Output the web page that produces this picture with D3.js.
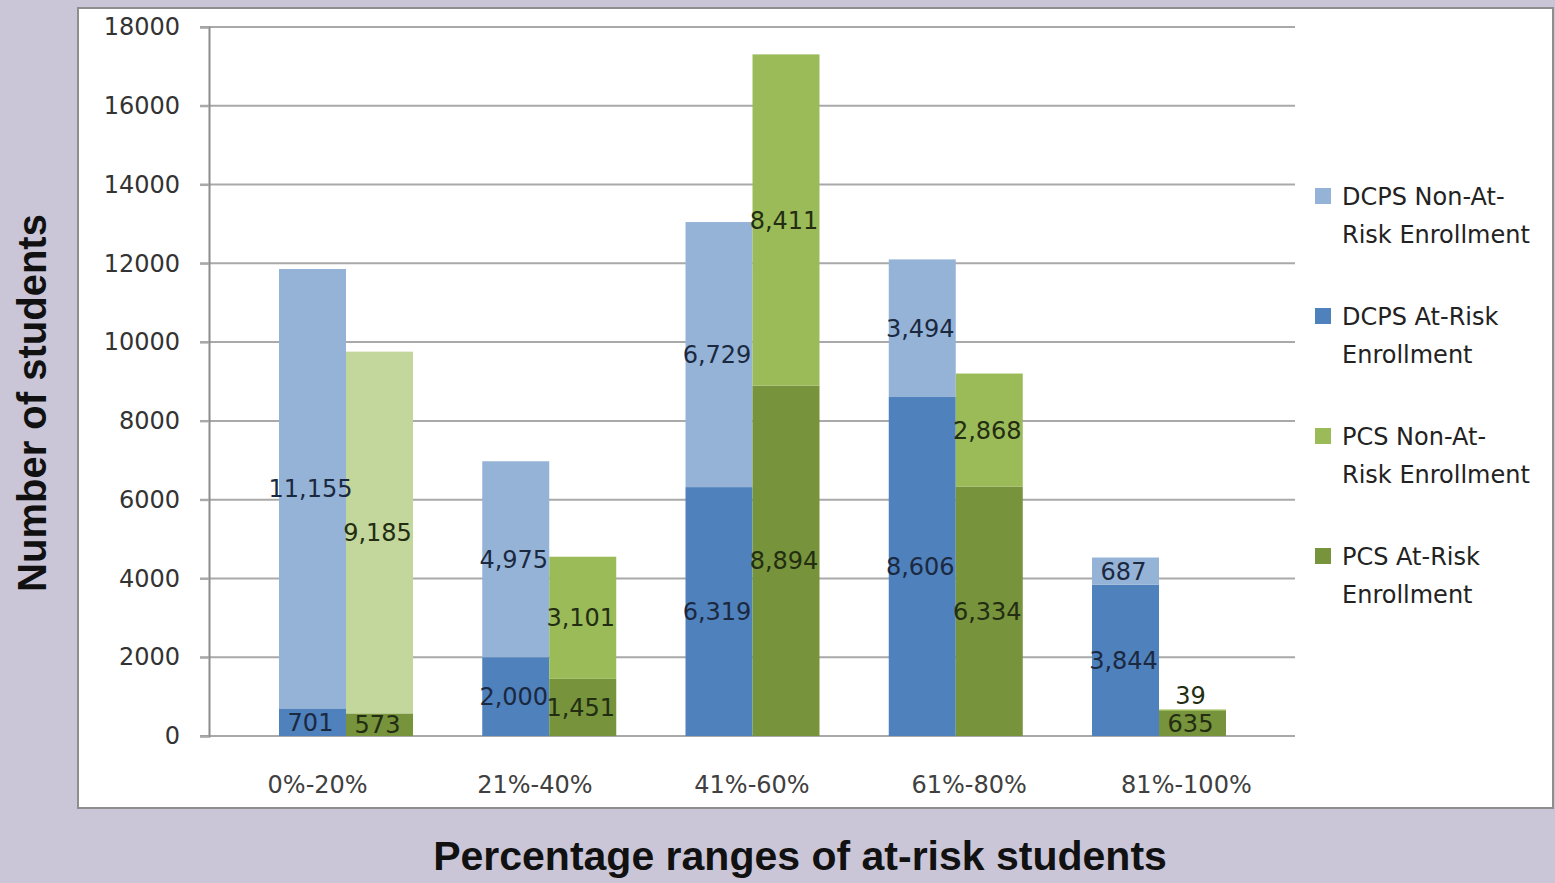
<!DOCTYPE html>
<html>
<head>
<meta charset="utf-8">
<script src="https://cdn.jsdelivr.net/npm/d3@7"></script>
<style>
  html, body { margin: 0; padding: 0; background: #cac6d8; }
  svg { display: block; }
  text { font-family: "DejaVu Sans", Verdana, sans-serif; }
  text.axis-title { font-family: "Liberation Sans", Arial, sans-serif; font-weight: bold; }
</style>
</head>
<body>
<svg id="chart" width="1555" height="883"></svg>
<script>
// Enrollment by share of at-risk students in the school
const categories = ["0%-20%", "21%-40%", "41%-60%", "61%-80%", "81%-100%"];
const dcpsAtRisk    = [701, 2000, 6319, 8606, 3844];
const dcpsNonAtRisk = [11155, 4975, 6729, 3494, 687];
const pcsAtRisk     = [573, 1451, 8894, 6334, 635];
const pcsNonAtRisk  = [9185, 3101, 8411, 2868, 39];
const yTicks = [0, 2000, 4000, 6000, 8000, 10000, 12000, 14000, 16000, 18000];
const legendLabels = [
  ["DCPS Non-At-", "Risk Enrollment"],
  ["DCPS At-Risk", "Enrollment"],
  ["PCS Non-At-", "Risk Enrollment"],
  ["PCS At-Risk", "Enrollment"]
];

const colors = {
  dcpsNon: "#95b3d7",
  dcpsAt: "#4f81bd",
  pcsNon: "#9bbb59",
  pcsNonLight: "#c3d69b",
  pcsAt: "#77933c"
};
const labelInk = { dcps: "#1b2940", pcs: "#222d12" };

const svg = d3.select("#chart");

// plot area panel
svg.append("rect")
  .attr("x", 78).attr("y", 8)
  .attr("width", 1475).attr("height", 800)
  .attr("fill", "#ffffff")
  .attr("stroke", "#8e8e8e").attr("stroke-width", 2);

const plotLeft = 209, plotRight = 1295, plotTop = 27, plotBottom = 736;

const y = d3.scaleLinear().domain([0, 18000]).range([plotBottom, plotTop]);

// category label positions
const xLabel = d3.scaleBand().domain(categories).range([plotLeft, plotRight]);
// bar pair centres
const xBar = d3.scalePoint().domain(categories).range([346, 1159]);
const barW = 67;

// gridlines
svg.append("g")
  .selectAll("line")
  .data(yTicks)
  .join("line")
  .attr("x1", plotLeft - 9).attr("x2", plotRight)
  .attr("y1", d => y(d)).attr("y2", d => y(d))
  .attr("stroke", "#a9a9a9").attr("stroke-width", 2);

// y axis
const yAxis = svg.append("g")
  .attr("transform", `translate(${plotLeft},0)`)
  .call(d3.axisLeft(y).tickValues(yTicks).tickFormat(d3.format("d")).tickSize(9).tickPadding(20));
yAxis.select(".domain").attr("stroke", "#8c8c8c").attr("stroke-width", 2);
yAxis.selectAll(".tick line").attr("stroke", "#a9a9a9").attr("stroke-width", 2);
yAxis.selectAll(".tick text")
  .attr("font-size", 24).attr("fill", "#333333");

// x axis labels
const xAxis = svg.append("g")
  .attr("transform", `translate(0,${plotBottom})`)
  .call(d3.axisBottom(xLabel).tickSize(0).tickPadding(40));
xAxis.select(".domain").remove();
xAxis.selectAll(".tick text")
  .attr("font-size", 24).attr("fill", "#404040");

// stacked bars
const stacks = [];
categories.forEach((c, i) => {
  const cx = xBar(c);
  stacks.push({ cat: c, x: cx - barW, y0: 0, y1: dcpsAtRisk[i], v: dcpsAtRisk[i], fill: colors.dcpsAt, ink: labelInk.dcps });
  stacks.push({ cat: c, x: cx - barW, y0: dcpsAtRisk[i], y1: dcpsAtRisk[i] + dcpsNonAtRisk[i], v: dcpsNonAtRisk[i], fill: colors.dcpsNon, ink: labelInk.dcps });
  stacks.push({ cat: c, x: cx, y0: 0, y1: pcsAtRisk[i], v: pcsAtRisk[i], fill: colors.pcsAt, ink: labelInk.pcs });
  stacks.push({ cat: c, x: cx, y0: pcsAtRisk[i], y1: pcsAtRisk[i] + pcsNonAtRisk[i], v: pcsNonAtRisk[i], fill: i === 0 ? colors.pcsNonLight : colors.pcsNon, ink: labelInk.pcs });
});

svg.append("g")
  .selectAll("rect")
  .data(stacks)
  .join("rect")
  .attr("x", d => d.x)
  .attr("width", barW)
  .attr("y", d => y(d.y1))
  .attr("height", d => y(d.y0) - y(d.y1))
  .attr("fill", d => d.fill);

// value labels: centred in each segment, lifted above if the segment is too thin
const fmt = d3.format(",");
svg.append("g")
  .selectAll("text")
  .data(stacks)
  .join("text")
  .attr("x", d => d.x + barW / 2 - 2)
  .attr("y", d => {
    const h = y(d.y0) - y(d.y1);
    return h < 18 ? y(d.y1) - 14 : (y(d.y0) + y(d.y1)) / 2;
  })
  .attr("dy", "0.36em")
  .attr("text-anchor", "middle")
  .attr("font-size", 24)
  .attr("fill", d => d.ink)
  .text(d => fmt(d.v));

// legend
const legendColors = [colors.dcpsNon, colors.dcpsAt, colors.pcsNon, colors.pcsAt];
const legend = svg.append("g").attr("transform", "translate(1315,196)");
const items = legend.selectAll("g")
  .data(legendLabels)
  .join("g")
  .attr("transform", (d, i) => `translate(0,${i * 120})`);
items.append("rect")
  .attr("x", 0).attr("y", -8)
  .attr("width", 16).attr("height", 16)
  .attr("fill", (d, i) => legendColors[i]);
items.selectAll("text")
  .data(d => d)
  .join("text")
  .attr("x", 27)
  .attr("y", (d, j) => j * 38)
  .attr("dy", "0.36em")
  .attr("font-size", 24)
  .attr("fill", "#222222")
  .text(d => d);

// axis titles
svg.append("text")
  .attr("class", "axis-title")
  .attr("transform", "translate(46,403) rotate(-90)")
  .attr("text-anchor", "middle")
  .attr("font-size", 40)
  .attr("fill", "#111111")
  .text("Number of students");

svg.append("text")
  .attr("class", "axis-title")
  .attr("x", 800).attr("y", 870)
  .attr("text-anchor", "middle")
  .attr("font-size", 41)
  .attr("fill", "#111111")
  .text("Percentage ranges of at-risk students");
</script>
</body>
</html>
